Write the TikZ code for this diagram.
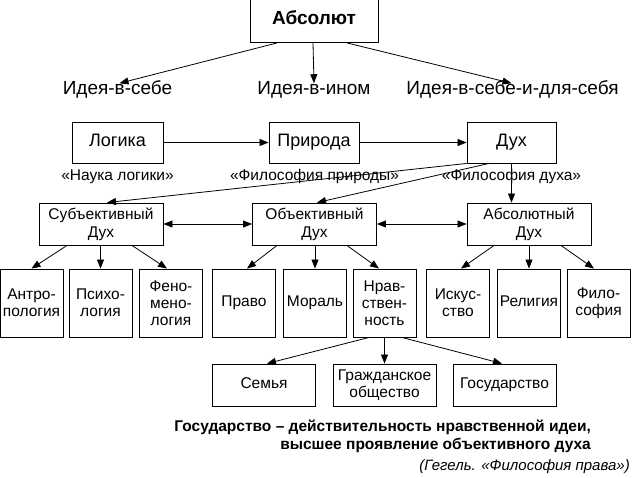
\documentclass[tikz,border=0pt]{standalone}
\usepackage{fontspec}
\setmainfont{Liberation Sans}
\usetikzlibrary{arrows.meta}

\begin{document}
\begin{tikzpicture}[x=1pt,y=-1pt,
        box/.style={draw, line width=0.9pt, inner sep=0pt, align=center, font=\fontsize{15.5}{17}\selectfont},
        oneline/.style={text height=0.716em, text depth=0pt},
        bigbox/.style={box, oneline, minimum height=41pt, font=\fontsize{18}{20}\selectfont},
        midbox/.style={box, minimum width=124pt, minimum height=42pt, font=\fontsize{15.5}{18}\selectfont},
        leaf/.style={box, minimum width=63pt, minimum height=68pt},
        lowbox/.style={box, minimum width=103pt, minimum height=42pt},
        idea/.style={inner xsep=0pt, inner ysep=4pt, oneline, font=\fontsize{19}{21}\selectfont},
        work/.style={inner sep=0pt, oneline, font=\fontsize{15.5}{17}\selectfont},
        arr/.style={-{Triangle[length=9pt,width=7pt]}, line width=0.8pt},
        dbl/.style={{Triangle[length=9pt,width=7pt]}-{Triangle[length=9pt,width=7pt]}, line width=0.8pt}]
        \useasboundingbox (0,0) rectangle (634,477);
        \node[box, oneline, minimum width=128pt, minimum height=43pt, font=\bfseries\fontsize{19}{21}\selectfont] (absolut) at (314,21) {Абсолют};
        \node[idea] (ideaself) at (117.5,91) {Идея-в-себе};
        \node[idea] (ideaother) at (314,91) {Идея-в-ином};
        \node[idea] (ideaforself) at (512.5,91) {Идея-в-себе-и-для-себя};
        \draw[arr] ([xshift=-37pt]absolut.south) -- ([xshift=2pt]ideaself.north);
        \draw[arr] ([xshift=-1pt]absolut.south) -- (ideaother.north);
        \draw[arr] ([xshift=33pt]absolut.south) -- ([xshift=-1pt]ideaforself.north);
        \node[bigbox, minimum width=91pt] (logika) at (117.5,142.5) {Логика};
        \node[bigbox, minimum width=90pt] (priroda) at (314,142.5) {Природа};
        \node[bigbox, minimum width=89pt] (dukh) at (511.5,142.5) {Дух};
        \draw[arr] (logika) -- (priroda);
        \draw[arr] (priroda) -- (dukh);
        \node[work] (naukalog) at (117.5,177) {«Наука логики»};
        \node[work] (filpriroda) at (314.5,177) {«Философия природы»};
        \node[work] (fildukh) at (511.5,177) {«Философия духа»};
        \node[midbox] (subj) at (101,224) {Субъективный\\Дух};
        \node[midbox] (obj) at (314.5,224) {Объективный\\Дух};
        \node[midbox] (abs) at (529,224) {Абсолютный\\Дух};
        \draw[arr] (dukh.south west) -- ([xshift=6pt]subj.north);
        \draw[arr] ([xshift=-22.5pt]dukh.south) -- ([xshift=2.5pt]obj.north);
        \draw[arr] (dukh.south) -- (dukh.south |- abs.north);
        \draw[dbl] (subj) -- (obj);
        \draw[dbl] (obj) -- (abs);
        \node[leaf] (antro) at (31.5,303) {Антро-\\пология};
        \node[leaf] (psych) at (100.5,303) {Психо-\\логия};
        \node[leaf] (fenom) at (171,303) {Фено-\\мено-\\логия};
        \node[leaf, oneline] (pravo) at (244,303) {Право};
        \node[leaf, oneline] (moral) at (315,303) {Мораль};
        \node[leaf] (nrav) at (384.5,303) {Нрав-\\ствен-\\ность};
        \node[leaf] (isk) at (458,303) {Искус-\\ство};
        \node[leaf, oneline] (relig) at (529,303) {Религия};
        \node[leaf] (filos) at (598.5,303) {Фило-\\софия};
        \draw[arr] ([xshift=-34pt]subj.south) -- (antro.north);
        \draw[arr] (psych.north |- subj.south) -- (psych.north);
        \draw[arr] ([xshift=31pt]subj.south) -- ([xshift=-4pt]fenom.north);
        \draw[arr] ([xshift=-37.5pt]obj.south) -- ([xshift=3pt]pravo.north);
        \draw[arr] (moral.north |- obj.south) -- (moral.north);
        \draw[arr] ([xshift=32.5pt]obj.south) -- ([xshift=-5.5pt]nrav.north);
        \draw[arr] ([xshift=-35pt]abs.south) -- ([xshift=3pt]isk.north);
        \draw[arr] (relig.north |- abs.south) -- (relig.north);
        \draw[arr] ([xshift=32pt]abs.south) -- ([xshift=-4.5pt]filos.north);
        \node[lowbox, oneline] (semya) at (264,385) {Семья};
        \node[lowbox] (grazhd) at (384.5,385) {Гражданское\\общество};
        \node[lowbox, oneline] (gosud) at (504.5,385) {Государство};
        \draw[arr] ([xshift=-15.5pt]nrav.south) -- ([xshift=3pt]semya.north);
        \draw[arr] (nrav.south) -- (grazhd.north);
        \draw[arr] ([xshift=17.5pt]nrav.south) -- ([xshift=-2.5pt]gosud.north);
        \node[anchor=east, align=right, inner sep=0pt, font=\bfseries\fontsize{15.5}{18}\selectfont] (thesis) at (591,436) {Государство – действительность нравственной идеи,\\высшее проявление объективного духа};
        \node[anchor=east, inner sep=0pt, font=\itshape\fontsize{15}{17}\selectfont] (source) at (630,467) {(Гегель. «Философия права»)};
\end{tikzpicture}
\end{document}
